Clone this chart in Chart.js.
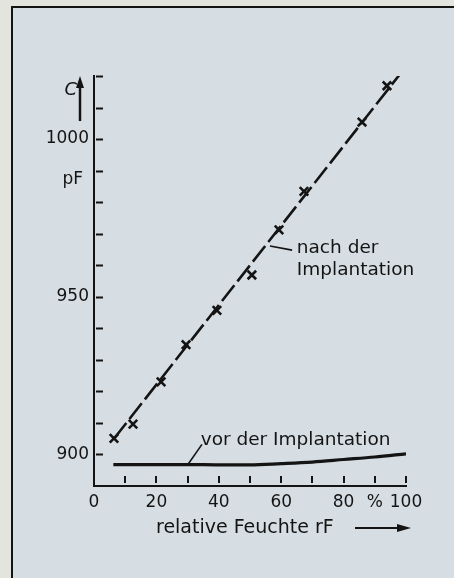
<!DOCTYPE html>
<html lang="de">
<head>
    <meta charset="UTF-8">
    <title>Kapazität über relativer Feuchte</title>
    <script src="https://cdn.jsdelivr.net/npm/chart.js"></script>
    <style>
        html, body { margin: 0; padding: 0; background: #e4e4df; }
        #wrap { position: relative; width: 454px; height: 578px; overflow: hidden; }
        #frame {
            position: absolute; left: 11px; top: 6px; right: -4px; bottom: -4px;
            border-top: 2px solid #141414; border-left: 2px solid #141414;
            background: #d6dee3;
        }
        #chart { position: absolute; left: 0; top: 0; }
    </style>
</head>
<body>
    <div id="wrap">
        <div id="frame"></div>
        <canvas id="chart" width="454" height="578"></canvas>
    </div>

    <script>
        // Messwerte nach der Implantation (Kreuze)
        const humidity = [6.4, 12.5, 21.5, 29.5, 39.4, 50.6, 59.3, 67.3, 85.9, 93.9];
        const capAfter = [905.1, 909.6, 923.0, 934.8, 945.7, 956.9, 971.2, 983.4, 1005.4, 1016.9];

        // Ausgleichsgerade (gestrichelt)
        const fitHumidity = [6.4, 98];
        const fitCap = [905, 1020.5];

        // Kurve vor der Implantation
        const beforeHumidity = [6.2, 20, 30, 40, 50, 60, 70, 80, 90, 100];
        const capBefore = [896.8, 896.8, 896.8, 896.7, 896.7, 897.1, 897.6, 898.4, 899.2, 900.2];

        // Achsenbeschriftungen
        const xLabelValues = [0, 20, 40, 60, 80, 90, 100];
        const xLabelTexts = ['0', '20', '40', '60', '80', '%', '100'];
        const yLabelValues = [900, 950, 1000];
        const yLabelTexts = ['900', '950', '1000'];

        const ink = '#141414';
        const font = '"DejaVu Sans", sans-serif';

        function toPoints(xs, ys) {
            return xs.map((v, i) => ({ x: v, y: ys[i] }));
        }

        // Achsen-Striche nach innen, Pfeile und Beschriftungen
        const annotate = {
            id: 'annotate',
            afterDraw(chart) {
                const { ctx, scales: { x, y } } = chart;
                ctx.save();
                ctx.strokeStyle = ink;
                ctx.fillStyle = ink;

                // y-Striche
                ctx.lineWidth = 2;
                for (let v = 900; v <= 1020; v += 10) {
                    const py = Math.round(y.getPixelForValue(v)) + 0.5;
                    ctx.beginPath();
                    ctx.moveTo(x.left + 2, py);
                    ctx.lineTo(x.left + 9, py);
                    ctx.stroke();
                }
                // x-Striche
                for (let v = 10; v <= 100; v += 10) {
                    const px = Math.round(x.getPixelForValue(v));
                    ctx.beginPath();
                    ctx.moveTo(px, y.bottom - 10);
                    ctx.lineTo(px, y.bottom - 3);
                    ctx.stroke();
                }

                // C mit Pfeil, pF
                const ax = x.left - 14;
                ctx.lineWidth = 2.5;
                ctx.beginPath();
                ctx.moveTo(ax, y.top + 45);
                ctx.lineTo(ax, y.top + 8);
                ctx.stroke();
                ctx.beginPath();
                ctx.moveTo(ax, y.top);
                ctx.lineTo(ax - 4, y.top + 12);
                ctx.lineTo(ax + 4, y.top + 12);
                ctx.closePath();
                ctx.fill();

                ctx.font = 'italic 18px ' + font;
                ctx.textAlign = 'right';
                ctx.textBaseline = 'middle';
                ctx.fillText('C', ax - 3, y.getPixelForValue(1015.5));
                ctx.font = '17px ' + font;
                ctx.fillText('pF', x.left - 11, y.getPixelForValue(987));

                // Achsentitel x
                ctx.font = '19px ' + font;
                ctx.textAlign = 'left';
                ctx.fillText('relative Feuchte rF', 156, y.bottom + 42);
                const ty = y.bottom + 42;
                ctx.lineWidth = 2;
                ctx.beginPath();
                ctx.moveTo(355, ty);
                ctx.lineTo(402, ty);
                ctx.stroke();
                ctx.beginPath();
                ctx.moveTo(411, ty);
                ctx.lineTo(397, ty - 4);
                ctx.lineTo(397, ty + 4);
                ctx.closePath();
                ctx.fill();

                // Kurvenbeschriftungen mit Bezugslinien
                ctx.lineWidth = 1.6;
                ctx.beginPath();
                ctx.moveTo(x.getPixelForValue(56.4), y.getPixelForValue(966.1));
                ctx.lineTo(x.getPixelForValue(63.5), y.getPixelForValue(964.8));
                ctx.stroke();
                ctx.font = '18.5px ' + font;
                ctx.fillText('nach der', x.getPixelForValue(65), y.getPixelForValue(965.5));
                ctx.fillText('Implantation', x.getPixelForValue(65), y.getPixelForValue(958.4));

                ctx.beginPath();
                ctx.moveTo(x.getPixelForValue(30.1), y.getPixelForValue(896.8));
                ctx.lineTo(x.getPixelForValue(34.6), y.getPixelForValue(903.2));
                ctx.stroke();
                ctx.fillText('vor der Implantation', x.getPixelForValue(34.2), y.getPixelForValue(904.6));

                ctx.restore();
            }
        };

        new Chart(document.getElementById('chart'), {
            type: 'scatter',
            data: {
                datasets: [
                    {
                        data: toPoints(fitHumidity, fitCap),
                        showLine: true,
                        borderColor: ink,
                        borderWidth: 2.6,
                        borderDash: [20, 5],
                        pointRadius: 0
                    },
                    {
                        data: toPoints(humidity, capAfter),
                        pointStyle: 'crossRot',
                        pointRadius: 6,
                        borderColor: ink,
                        borderWidth: 2.6
                    },
                    {
                        data: toPoints(beforeHumidity, capBefore),
                        showLine: true,
                        cubicInterpolationMode: 'monotone',
                        borderColor: ink,
                        borderWidth: 3.2,
                        pointRadius: 0
                    }
                ]
            },
            options: {
                responsive: false,
                animation: false,
                layout: { padding: { left: 0, right: 48, top: 76, bottom: 0 } },
                plugins: {
                    legend: { display: false },
                    tooltip: { enabled: false }
                },
                scales: {
                    x: {
                        type: 'linear',
                        min: 0,
                        max: 100,
                        grid: { display: false },
                        border: { display: true, color: ink, width: 2 },
                        afterFit(scale) { scale.height = 92; },
                        afterBuildTicks(scale) {
                            scale.ticks = xLabelValues.map(v => ({ value: v }));
                        },
                        ticks: {
                            autoSkip: false,
                            maxRotation: 0,
                            padding: -2,
                            color: ink,
                            font: { family: font, size: 17 },
                            callback: v => xLabelTexts[xLabelValues.indexOf(v)]
                        }
                    },
                    y: {
                        min: 890,
                        max: 1020,
                        grid: { display: false },
                        border: { display: true, color: ink, width: 2 },
                        afterFit(scale) { scale.width = 94; },
                        afterBuildTicks(scale) {
                            scale.ticks = yLabelValues.map(v => ({ value: v }));
                        },
                        ticks: {
                            autoSkip: false,
                            padding: -3,
                            color: ink,
                            font: { family: font, size: 17 },
                            callback: v => yLabelTexts[yLabelValues.indexOf(v)]
                        }
                    }
                }
            },
            plugins: [annotate]
        });
    </script>
</body>
</html>
